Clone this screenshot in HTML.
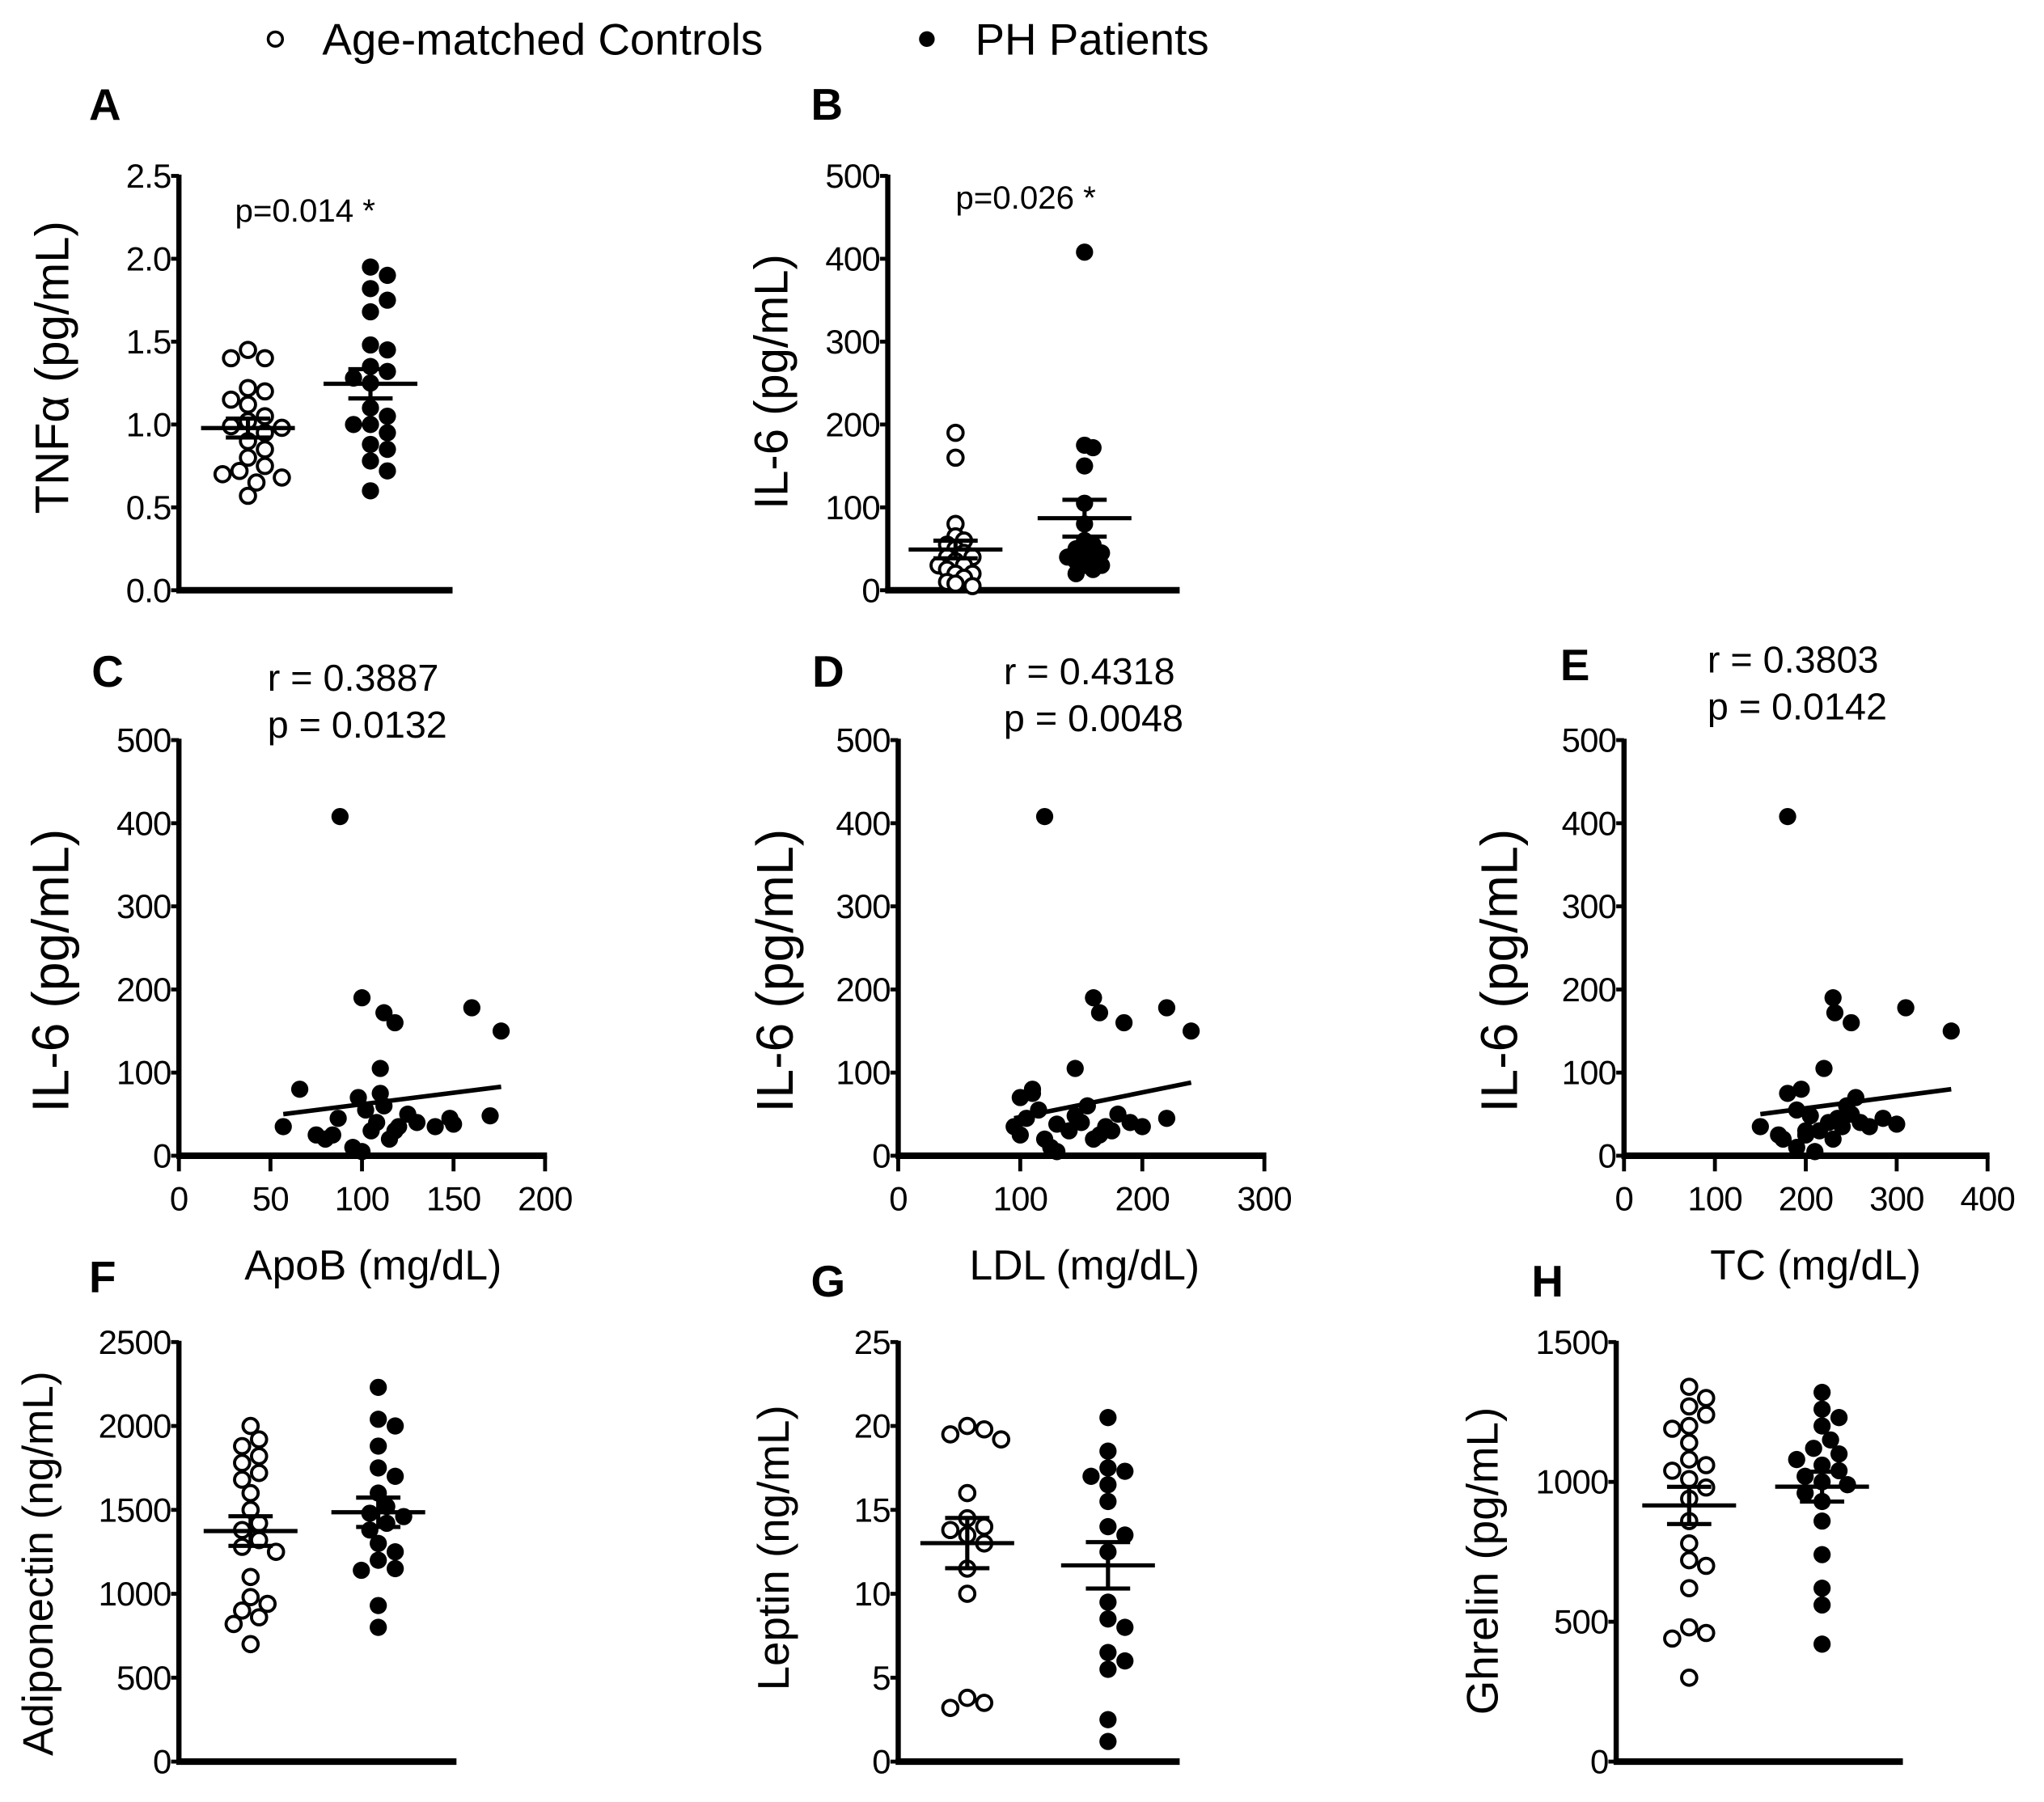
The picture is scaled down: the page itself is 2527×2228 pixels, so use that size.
<!DOCTYPE html>
<html><head><meta charset="utf-8"><style>
html,body{margin:0;padding:0;background:#fff}
svg{display:block}
text{font-family:"Liberation Sans",Arial,sans-serif;fill:#000}
</style></head><body>
<svg id="fig" width="2527" height="2228" viewBox="0 0 1568 1383" xmlns="http://www.w3.org/2000/svg">
<g>
<circle cx="211" cy="30" r="5.5" fill="#fff" stroke="#000" stroke-width="2.2"/>
<text x="247" y="42" font-size="34">Age-matched Controls</text>
<circle cx="711" cy="30" r="6" fill="#000"/>
<text x="748" y="42" font-size="34">PH Patients</text>
</g>
</svg>
<script>
// ---- data ----
const groupLabels = ["Age-matched Controls", "PH Patients"];
const tnfControls = [1.45,1.40,1.40,1.22,1.20,1.15,1.12,1.05,1.02,0.99,0.98,0.95,0.90,0.85,0.80,0.75,0.72,0.70,0.68,0.65,0.57];
const tnfPatients = [1.95,1.90,1.82,1.75,1.68,1.48,1.45,1.35,1.32,1.28,1.25,1.10,1.05,1.00,1.00,0.95,0.88,0.85,0.78,0.72,0.60];
const il6Controls = [190,160,80,65,60,55,50,45,40,40,35,30,30,25,20,20,15,10,8,5];
const il6Patients = [408,175,172,150,105,80,60,55,50,45,45,40,40,35,30,30,25,20];
const apob = [88,100,112,118,160,176,110,66,57,75,80,84,98,110,95,100,105,108,115,120,125,130,140,148,150,170,87,102,112,118];
const ldl = [120,160,165,185,220,240,145,110,95,100,120,165,100,110,125,130,140,150,160,170,180,190,200,220,130,145,105,115,155,175];
const tc = [180,230,232,250,310,360,220,195,150,170,175,200,255,180,190,210,215,225,230,240,250,260,270,285,300,205,235,190,245,200];
const il6Corr = [408,190,172,160,178,150,105,80,35,25,20,25,70,75,10,5,30,40,20,35,50,40,35,45,38,48,45,55,60,30];
const adipoControls = [2000,1920,1880,1820,1780,1720,1680,1600,1500,1420,1380,1320,1280,1250,1100,980,940,900,860,820,700];
const adipoPatients = [2230,2040,2000,1880,1750,1700,1600,1520,1480,1460,1420,1380,1300,1250,1200,1150,1140,930,800];
const leptinControls = [20,19.8,19.5,19.2,16,14.5,14,13.8,13.5,13,11.5,10,3.8,3.5,3.2];
const leptinPatients = [20.5,18.5,17.5,17.3,17,16.5,15.5,14,13.5,12.5,9.5,8.5,8,6.5,6,5.5,2.5,1.2];
const ghrelinControls = [1340,1300,1270,1240,1200,1190,1140,1080,1060,1040,1010,980,940,860,780,720,700,620,480,460,440,300];
const ghrelinPatients = [1320,1260,1230,1200,1150,1120,1100,1080,1060,1040,1020,1000,990,960,930,860,740,620,560,420];
const ticksTnf = ["0.0","0.5","1.0","1.5","2.0","2.5"];
const ticksIl6 = [0,100,200,300,400,500];
const ticksAdipo = [0,500,1000,1500,2000,2500];
const ticksLeptin = [0,5,10,15,20,25];
const ticksGhrelin = [0,500,1000,1500];
const xTicksApob = [0,50,100,150,200];
const xTicksLdl = [0,100,200,300];
const xTicksTc = [0,100,200,300,400];
const fitApob = [[57,50],[176,83]];
const fitLdl = [[95,45],[240,88]];
const fitTc = [[150,50],[360,80]];

const NS = "http://www.w3.org/2000/svg";
const svg = document.getElementById('fig');
function mk(tag, attrs, parent){
  const e = document.createElementNS(NS, tag);
  for (const k in attrs) e.setAttribute(k, attrs[k]);
  (parent||svg).appendChild(e);
  return e;
}
function txt(s, attrs, parent){ const t = mk('text', attrs, parent); t.textContent = s; return t; }

function yAxis(g, ax, ticks, name){
  const ys = v => ax.y0 - (v - ax.min)/(ax.max - ax.min)*(ax.y0 - ax.y1);
  const l = mk('line',{x1:ax.x,y1:ax.y1-1,x2:ax.x,y2:ax.y0,stroke:'#000','stroke-width':4},g);
  
  
  ticks.forEach(t=>{
    const v = parseFloat(t), y = ys(v);
    const tk = mk('line',{x1:ax.x-6,y1:y,x2:ax.x,y2:y,stroke:'#000','stroke-width':3},g);
    
    
    const tl = txt(String(t),{x:ax.x-6,y:y+9,'font-size':26,'text-anchor':'end','letter-spacing':-0.5},g);
    
    
  });
  return ys;
}
function yTitle(g, s, x, y, name, fs){
  const t = txt(s,{x:x,y:y,'font-size':fs,'text-anchor':'middle',transform:`rotate(-90 ${x} ${y})`},g);
  
  
}
function letter(g, s, x, y){
  const t = txt(s,{x:x,y:y,'font-size':34,'font-weight':'bold'},g);
  
  
}
function swarm(vals, ys, cx, r, tol, maxOff){
  const placed = [];
  const order = vals.map((v,i)=>i).sort((a,b)=>vals[b]-vals[a]);
  const out = new Array(vals.length);
  order.forEach(i=>{
    const y = ys(vals[i]);
    let k = 0, x = cx;
    while (true){
      const off = (k===0)?0:Math.ceil(k/2)*r*1.0*(k%2?1:-1);
      if (Math.abs(off) > maxOff){ x = cx + (k%2?1:-1)*maxOff*0.5*((k%4<2)?1:0.3); break; }
      x = cx + off;
      if (placed.every(p=>Math.hypot(p[0]-x,p[1]-y) >= 2*r*tol)) break;
      k++;
    }
    placed.push([x,y]); out[i] = [x,y];
  });
  return out;
}
function dotPanel(cfg){
  const g = mk('g',{});
  
  
  const ys = yAxis(g, cfg.ax, cfg.ticks, cfg.name);
  const xa = mk('line',{x1:cfg.ax.x-2,y1:cfg.ax.y0,x2:cfg.ax.xe,y2:cfg.ax.y0,stroke:'#000','stroke-width':5},g);
  
  
  [cfg.c, cfg.p].forEach((vals, gi)=>{
    const cx = gi===0 ? cfg.cx0 : cfg.cx1;
    const pts = swarm(vals, ys, cx, 6.5, cfg.tol||0.92, cfg.maxOff||45);
    pts.forEach(p=>{
      const c = mk('circle', gi===0 ? {cx:p[0],cy:p[1],r:5.8,fill:'#fff',stroke:'#000','stroke-width':2.4}
                                    : {cx:p[0],cy:p[1],r:6.6,fill:'#000'}, g);
      
      
    });
    const n = vals.length, m = vals.reduce((a,b)=>a+b,0)/n;
    const sd = Math.sqrt(vals.reduce((a,b)=>a+(b-m)*(b-m),0)/(n-1)), se = sd/Math.sqrt(n);
    const mg = mk('g',{stroke:'#000','stroke-width':3.2},g);
    
    
    mk('line',{x1:cx-36,y1:ys(m),x2:cx+36,y2:ys(m)},mg);
    mk('line',{x1:cx,y1:ys(m+se),x2:cx,y2:ys(m-se)},mg);
    mk('line',{x1:cx-17,y1:ys(m+se),x2:cx+17,y2:ys(m+se)},mg);
    mk('line',{x1:cx-17,y1:ys(m-se),x2:cx+17,y2:ys(m-se)},mg);
  });
  yTitle(g, cfg.title, cfg.tx, cfg.ty, cfg.name, cfg.tfs);
  letter(g, cfg.letter, cfg.lx, cfg.ly);
  if (cfg.note){
    const t = txt(cfg.note,{x:cfg.nx,y:cfg.ny,'font-size':25,'xml:space':'preserve'},g);
    
    
  }
}
function scatterPanel(cfg){
  const g = mk('g',{});
  
  
  const ys = yAxis(g, cfg.ax, ticksIl6, cfg.name);
  const xmax = cfg.xt[cfg.xt.length-1];
  const xs = v => cfg.ax.x + v/xmax*(cfg.ax.xe - cfg.ax.x);
  const xa = mk('line',{x1:cfg.ax.x-2,y1:cfg.ax.y0,x2:cfg.ax.xe+1.5,y2:cfg.ax.y0,stroke:'#000','stroke-width':5},g);
  
  
  cfg.xt.forEach(t=>{
    const tk = mk('line',{x1:xs(t),y1:cfg.ax.y0,x2:xs(t),y2:cfg.ax.y0+12,stroke:'#000','stroke-width':3},g);
    
    
    const tl = txt(String(t),{x:xs(t),y:cfg.ax.y0+42,'font-size':26,'text-anchor':'middle','letter-spacing':-0.5},g);
    
    
  });
  cfg.xv.forEach((v,i)=>{
    const c = mk('circle',{cx:xs(v),cy:ys(il6Corr[i]),r:6.6,fill:'#000'},g);
    
    
  });
  const f = cfg.fit;
  const fl = mk('line',{x1:xs(f[0][0]),y1:ys(f[0][1]),x2:xs(f[1][0]),y2:ys(f[1][1]),stroke:'#000','stroke-width':3.5},g);
  
  
  yTitle(g, 'IL-6 (pg/mL)', cfg.tx, 745, cfg.name, 40);
  letter(g, cfg.letter, cfg.lx, cfg.ly);
  const xt = txt(cfg.xtitle,{x:cfg.xtx,y:982,'font-size':32,'text-anchor':'middle'},g);
  
  
  const r = txt(cfg.r,{x:cfg.nx,y:cfg.ny,'font-size':29},g);
  
  
  const p = txt(cfg.p,{x:cfg.nx,y:cfg.ny+36,'font-size':29},g);
  
  
}

dotPanel({name:'panel-a-tnf',letter:'A',lx:68,ly:92,c:tnfControls,p:tnfPatients,ticks:ticksTnf,
  ax:{x:137,y0:453,y1:135,min:0,max:2.5,xe:347},cx0:190,cx1:284,title:'TNF\u03b1 (pg/mL)',tx:52,ty:282,tfs:36,note:'p=0.014  *',nx:180,ny:170});
dotPanel({name:'panel-b-il6',letter:'B',lx:622,ly:92,c:il6Controls,p:il6Patients,ticks:ticksIl6,tol:0.5,maxOff:30,
  ax:{x:681,y0:453,y1:135,min:0,max:500,xe:905},cx0:733,cx1:832,title:'IL-6 (pg/mL)',tx:604,ty:293,tfs:36,note:'p=0.026  *',nx:733,ny:160});
scatterPanel({name:'panel-c-apob',letter:'C',lx:70,ly:527,ax:{x:137,y0:887,y1:568,min:0,max:500,xe:418},xt:xTicksApob,xv:apob,fit:fitApob,
  tx:52,xtitle:'ApoB (mg/dL)',xtx:286,r:'r = 0.3887',p:'p = 0.0132',nx:205,ny:530});
scatterPanel({name:'panel-d-ldl',letter:'D',lx:623,ly:527,ax:{x:689,y0:887,y1:568,min:0,max:500,xe:970},xt:xTicksLdl,xv:ldl,fit:fitLdl,
  tx:608,xtitle:'LDL (mg/dL)',xtx:832,r:'r = 0.4318',p:'p = 0.0048',nx:770,ny:525});
scatterPanel({name:'panel-e-tc',letter:'E',lx:1197,ly:522,ax:{x:1246,y0:887,y1:568,min:0,max:500,xe:1525},xt:xTicksTc,xv:tc,fit:fitTc,
  tx:1164,xtitle:'TC (mg/dL)',xtx:1393,r:'r = 0.3803',p:'p = 0.0142',nx:1310,ny:516});
dotPanel({name:'panel-f-adiponectin',letter:'F',lx:68,ly:992,c:adipoControls,p:adipoPatients,ticks:ticksAdipo,
  ax:{x:137,y0:1352,y1:1030,min:0,max:2500,xe:350},cx0:192,cx1:290,title:'Adiponectin (ng/mL)',tx:40,ty:1200,tfs:33});
dotPanel({name:'panel-g-leptin',letter:'G',lx:622,ly:995,c:leptinControls,p:leptinPatients,ticks:ticksLeptin,
  ax:{x:689,y0:1352,y1:1030,min:0,max:25,xe:905},cx0:742,cx1:850,title:'Leptin (ng/mL)',tx:605,ty:1188,tfs:34});
dotPanel({name:'panel-h-ghrelin',letter:'H',lx:1175,ly:995,c:ghrelinControls,p:ghrelinPatients,ticks:ticksGhrelin,
  ax:{x:1240,y0:1352,y1:1030,min:0,max:1500,xe:1460},cx0:1296,cx1:1398,title:'Ghrelin (pg/mL)',tx:1149,ty:1198,tfs:34});
</script>
</body></html>
